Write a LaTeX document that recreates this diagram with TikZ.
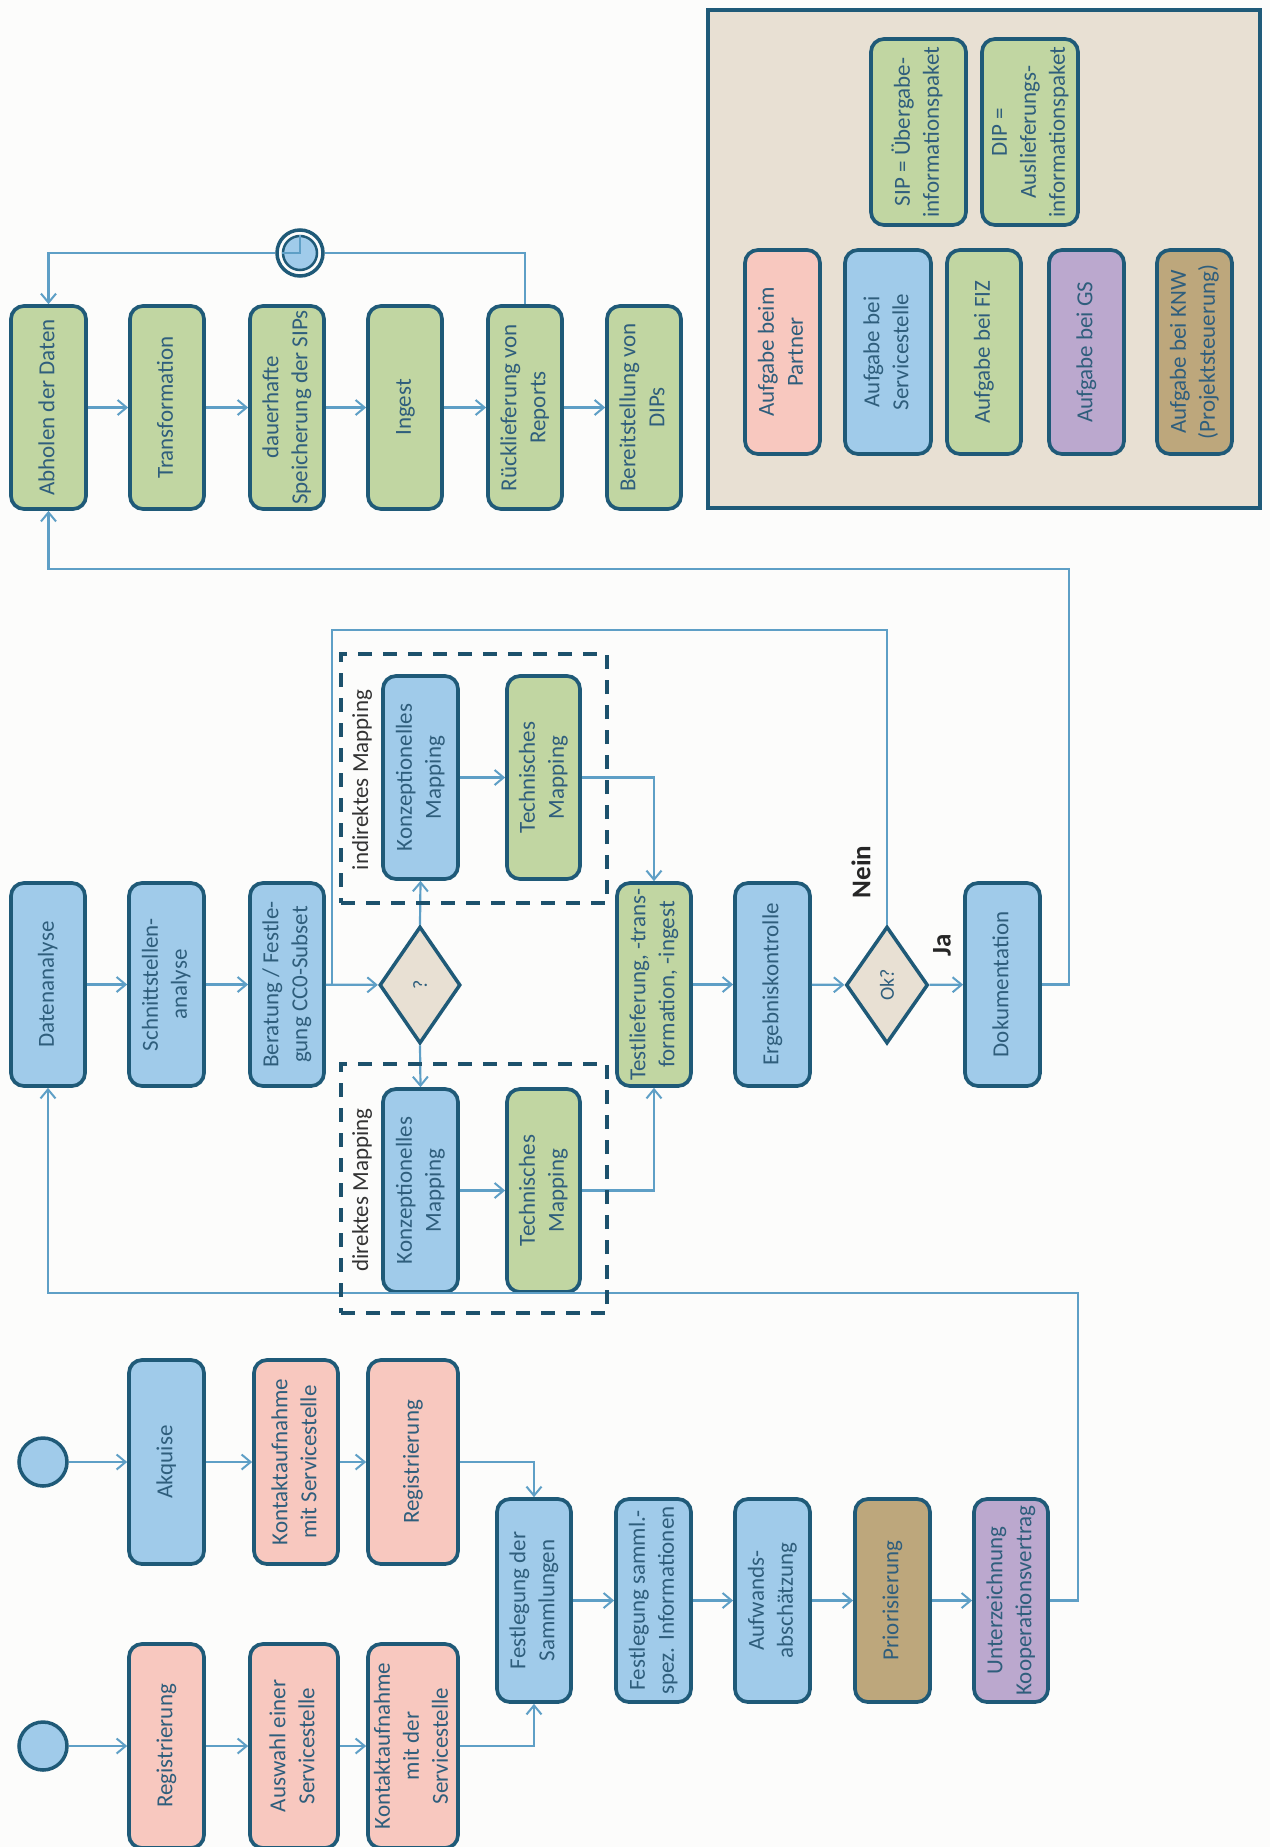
\documentclass[tikz,border=0pt]{standalone}
\usepackage{fontspec}
\usepackage{graphicx}
\setmainfont{Carlito}
\usetikzlibrary{arrows.meta,shapes.geometric}
\definecolor{bgc}{HTML}{FCFCFB}
\definecolor{edgec}{HTML}{1F5A78}
\definecolor{linec}{HTML}{5E9FC6}
\definecolor{txtc}{HTML}{2F5E7C}
\definecolor{blueb}{HTML}{A0CBEA}
\definecolor{greenb}{HTML}{C1D6A2}
\definecolor{pinkb}{HTML}{F8C8BF}
\definecolor{purpb}{HTML}{BBA8CE}
\definecolor{tanb}{HTML}{BDA77C}
\definecolor{beigeb}{HTML}{E8E0D3}
\newcommand{\rtx}[1]{\rotatebox{90}{\begin{tabular}{@{}c@{}}#1\end{tabular}}}
\newcommand{\taskat}[7]{\node[taskbox,fill=#6,minimum width={(#4-#2)*1pt},minimum height={(#5-#3)*1pt}] (#1) at ({(#2+#4)/2},{(#3+#5)/2}) {\rtx{#7}};}
\tikzset{
  taskbox/.style={draw=edgec,line width=3.7pt,rounded corners=13pt,inner sep=0pt,text=txtc,font=\fontsize{23}{29}\selectfont},
  gate/.style={diamond,draw=edgec,line width=3.5pt,fill=beigeb,inner sep=0pt,aspect=0.69,text=txtc,font=\fontsize{20}{24}\selectfont},
  startc/.style={circle,draw=edgec,line width=3.5pt,fill=blueb,inner sep=0pt,minimum size=48pt},
  conn/.style={draw=linec,line width=2.2pt},
  arr/.style={conn,-{Straight Barb[length=9pt,width=15pt,line width=2pt]}},
  dashbox/.style={draw=edgec!90!black,line width=3.6pt,dash pattern=on 14pt off 11pt},
  grouplabel/.style={inner sep=0pt,text=black!80,font=\fontsize{23}{29}\selectfont},
  decis/.style={inner sep=0pt,text=black!85,font=\bfseries\fontsize{27}{30}\selectfont}
}
\begin{document}
\begin{tikzpicture}[x=1pt,y=-1pt]
\useasboundingbox (0,0) rectangle (1270,1847);
\fill[bgc] (0,0) rectangle (1270,1847);
% legend
\node[draw=edgec,line width=3.5pt,fill=beigeb,inner sep=0pt,minimum width=552pt,minimum height=498pt] (legend) at (984,259) {};
\taskat{sipb}{871}{39}{966}{225}{greenb}{SIP = Übergabe-\\informationspaket}
\taskat{dipb}{982}{39}{1078}{225}{greenb}{DIP =\\Auslieferungs-\\informationspaket}
\taskat{lp}{745}{250}{820}{454}{pinkb}{Aufgabe beim\\Partner}
\taskat{ls}{845}{250}{931}{454}{blueb}{Aufgabe bei\\Servicestelle}
\taskat{lf}{947}{250}{1021}{454}{greenb}{Aufgabe bei FIZ}
\taskat{lg}{1049}{250}{1124}{454}{purpb}{Aufgabe bei GS}
\taskat{lk}{1157}{250}{1232}{454}{tanb}{Aufgabe bei KNW\\(Projektsteuerung)}
% top row
\taskat{abh}{11}{306}{86}{509}{greenb}{Abholen der Daten}
\taskat{tra}{130}{306}{204}{509}{greenb}{Transformation}
\taskat{dau}{250}{306}{324}{509}{greenb}{dauerhafte\\Speicherung der SIPs}
\taskat{ing}{368}{306}{442}{509}{greenb}{Ingest}
\taskat{rue}{488}{306}{562}{509}{greenb}{Rücklieferung von\\Reports}
\taskat{ber}{607}{306}{681}{509}{greenb}{Bereitstellung von\\DIPs}
\node[circle,draw=edgec,line width=3.5pt,fill=bgc,inner sep=0pt,minimum size=46pt] (timer) at (300,253) {};
\node[circle,draw=edgec,line width=2.5pt,fill=blueb,inner sep=0pt,minimum size=34pt] (timerin) at (timer.center) {};
\draw[linec,line width=1.3pt] (timerin.west) -- (timerin.center) -- (timerin.north);
% middle row
\taskat{dat}{11}{883}{85}{1086}{blueb}{Datenanalyse}
\taskat{sch}{129}{883}{204}{1086}{blueb}{Schnittstellen-\\analyse}
\taskat{bera}{250}{883}{324}{1086}{blueb}{Beratung / Festle-\\gung CC0-Subset}
\node[gate,minimum width=81pt,minimum height=117pt] (dq) at (420,985) {\rotatebox{90}{?}};
\taskat{ki}{383}{676}{458}{879}{blueb}{Konzeptionelles\\Mapping}
\taskat{ti}{507}{676}{580}{879}{greenb}{Technisches\\Mapping}
\taskat{kd}{383}{1089}{458}{1292}{blueb}{Konzeptionelles\\Mapping}
\taskat{td}{507}{1089}{580}{1292}{greenb}{Technisches\\Mapping}
\taskat{tes}{617}{883}{691}{1086}{greenb}{Testlieferung, -trans-\\formation, -ingest}
\taskat{erg}{735}{883}{810}{1086}{blueb}{Ergebniskontrolle}
\node[gate,minimum width=82pt,minimum height=117pt] (ok) at (887,985) {\rotatebox{90}{Ok?}};
\taskat{dok}{965}{883}{1040}{1086}{blueb}{Dokumentation}
% bottom rows
\node[startc] (s1) at (43,1462) {};
\taskat{akq}{129}{1360}{204}{1564}{blueb}{Akquise}
\taskat{kon}{254}{1360}{338}{1564}{pinkb}{Kontaktaufnahme\\mit Servicestelle}
\taskat{reg}{368}{1360}{458}{1564}{pinkb}{Registrierung}
\node[startc] (s2) at (43,1746) {};
\taskat{regb}{129}{1644}{204}{1848}{pinkb}{Registrierung}
\taskat{aus}{250}{1644}{338}{1848}{pinkb}{Auswahl einer\\Servicestelle}
\taskat{konb}{368}{1644}{458}{1848}{pinkb}{Kontaktaufnahme\\mit der\\Servicestelle}
\taskat{fes}{497}{1499}{571}{1702}{blueb}{Festlegung der\\Sammlungen}
\taskat{fsa}{616}{1499}{691}{1702}{blueb}{Festlegung samml.-\\spez. Informationen}
\taskat{auf}{735}{1499}{810}{1702}{blueb}{Aufwands-\\abschätzung}
\taskat{pri}{855}{1499}{930}{1702}{tanb}{Priorisierung}
\taskat{unt}{974}{1499}{1048}{1702}{purpb}{Unterzeichnung\\Kooperationsvertrag}
% junction points
\coordinate (c1) at (1069,569);
\coordinate (c2) at (332,630);
\coordinate (c3) at (332,985);
\coordinate (c4) at (1078,1293);
% connectors
\draw[arr] (abh) -- (tra);
\draw[arr] (tra) -- (dau);
\draw[arr] (dau) -- (ing);
\draw[arr] (ing) -- (rue);
\draw[arr] (rue) -- (ber);
\draw[conn] (rue.north) |- (timer.east);
\draw[arr] (timer.west) -| (abh.north);
\draw[arr] (dok.east) -| (c1) -| (abh.south);
\draw[arr] (dat) -- (sch);
\draw[arr] (sch) -- (bera);
\draw[arr] (bera) -- (dq);
\draw[arr] (dq.north) -- (ki.south);
\draw[arr] (dq.south) -- (kd.north);
\draw[arr] (ki) -- (ti);
\draw[arr] (kd) -- (td);
\draw[arr] (ti.east) -| (tes.north);
\draw[arr] (td.east) -| (tes.south);
\draw[arr] (tes) -- (erg);
\draw[arr] (erg) -- (ok);
\draw[arr] (ok) -- (dok);
\draw[conn] (ok.north) |- (c2) -- (c3);
\draw[arr] (s1) -- (akq);
\draw[arr] (akq) -- (kon);
\draw[arr] (kon) -- (reg);
\draw[arr] (s2) -- (regb);
\draw[arr] (regb) -- (aus);
\draw[arr] (aus) -- (konb);
\draw[arr] (reg.east) -| (fes.north);
\draw[arr] (konb.east) -| (fes.south);
\draw[arr] (fes) -- (fsa);
\draw[arr] (fsa) -- (auf);
\draw[arr] (auf) -- (pri);
\draw[arr] (pri) -- (unt);
\draw[arr] (unt.east) -| (c4) -| (dat.south);
% dashed groups
\node[dashbox,inner sep=0pt,minimum width=266pt,minimum height=249pt] (gi) at (474,778.5) {};
\node[dashbox,inner sep=0pt,minimum width=266pt,minimum height=249pt] (gd) at (474,1188.5) {};
\node[grouplabel] (li) at (362,780) {\rotatebox{90}{indirektes Mapping}};
\node[grouplabel] (ld) at (362,1190) {\rotatebox{90}{direktes Mapping}};
\node[decis] (nein) at (861,872) {\rotatebox{90}{Nein}};
\node[decis] (ja) at (942,945) {\rotatebox{90}{Ja}};
\end{tikzpicture}
\end{document}
